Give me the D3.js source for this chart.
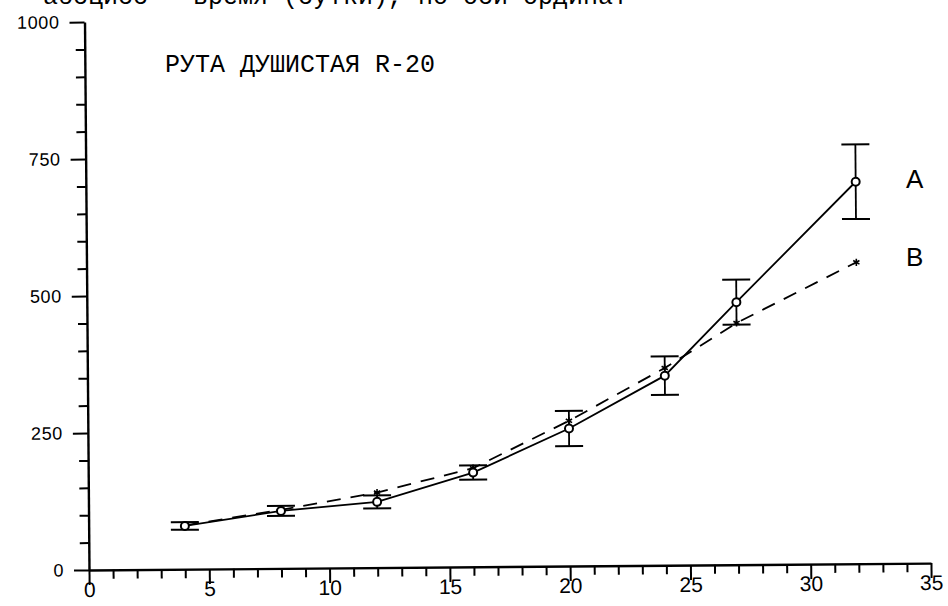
<!DOCTYPE html>
<html>
<head>
<meta charset="utf-8">
<script src="https://cdn.jsdelivr.net/npm/d3@7"></script>
<style>
  body { margin: 0; background: #fff; }
  svg { display: block; }
</style>
</head>
<body>
<div id="viz"></div>
<script>
// Data
var days    = [4, 8, 12, 16, 20, 24, 27, 32];
var seriesA = [79, 105, 120, 172, 251, 346, 479, 697];
var errA    = [7, 9, 12, 13, 32, 35, 41, 68];
var seriesB = [80, 107, 137, 180, 265, 360, 441, 550];
var xTicks  = d3.range(0, 36, 1);
var yTicks  = d3.range(0, 1001, 50);
var titulo  = 'РУТА ДУШИСТАЯ R-20';
var encabezado = 'абсцисс — время (сутки), по оси ординат';
var etiquetas = ['A', 'B'];

var width = 948, height = 606;

var svg = d3.select('#viz')
  .append('svg')
  .attr('width', width)
  .attr('height', height)
  .style('background', '#fff');

// cut-off caption line at the very top of the page
svg.append('text')
  .attr('x', 43)
  .attr('y', 4)
  .style('font-family', '"Liberation Mono", "DejaVu Sans Mono", monospace')
  .style('font-size', '25px')
  .attr('fill', '#000')
  .text(encabezado);

// the scan is slightly rotated, so the plot group is too
var g = svg.append('g')
  .attr('transform', 'translate(89,570) rotate(-0.47)');

var x = d3.scaleLinear().domain([0, 35]).range([0, 842]);
var y = d3.scaleLinear().domain([0, 1000]).range([0, -548]);

// x axis
var ejeX = g.append('g')
  .call(d3.axisBottom(x)
    .tickValues(xTicks)
    .tickSize(15)
    .tickSizeOuter(0)
    .tickPadding(-3)
    .tickFormat(function(d){ return d % 5 === 0 ? d : ''; }));

ejeX.selectAll('.tick line')
  .attr('y2', function(d){ return d % 5 === 0 ? 15 : 9; })
  .attr('stroke-width', 2);
ejeX.selectAll('.tick text')
  .style('font-family', '"Liberation Sans", Arial, sans-serif')
  .style('font-size', '21px');

// y axis
var ejeY = g.append('g')
  .call(d3.axisLeft(y)
    .tickValues(yTicks)
    .tickSize(15)
    .tickSizeOuter(0)
    .tickPadding(10)
    .tickFormat(function(d){ return d % 250 === 0 ? d : ''; }));

ejeY.selectAll('.tick line')
  .attr('x2', function(d){ return d % 250 === 0 ? -15 : -9; })
  .attr('stroke-width', 2);
ejeY.selectAll('.tick text')
  .style('font-family', '"Liberation Sans", Arial, sans-serif')
  .style('font-size', '18px')
  .style('letter-spacing', '0.6px');

g.selectAll('.domain').attr('stroke-width', 2.4);

// series B, dashed
var linea = d3.line()
  .x(function(d){ return x(d[0]); })
  .y(function(d){ return y(d[1]); });

g.append('path')
  .datum(d3.zip(days, seriesB))
  .attr('d', linea)
  .attr('fill', 'none')
  .attr('stroke', '#000')
  .attr('stroke-width', 1.8)
  .attr('stroke-dasharray', '14,10');

// series A, solid
g.append('path')
  .datum(d3.zip(days, seriesA))
  .attr('d', linea)
  .attr('fill', 'none')
  .attr('stroke', '#000')
  .attr('stroke-width', 1.8);

// error bars on A
var barras = g.selectAll('.barra')
  .data(d3.zip(days, seriesA, errA))
  .enter().append('g')
  .attr('class', 'barra');

barras.append('line')
  .attr('x1', function(d){ return x(d[0]); })
  .attr('x2', function(d){ return x(d[0]); })
  .attr('y1', function(d){ return y(d[1] - d[2]); })
  .attr('y2', function(d){ return y(d[1] + d[2]); })
  .attr('stroke', '#000')
  .attr('stroke-width', 1.8);

[-1, 1].forEach(function(s){
  barras.append('line')
    .attr('x1', function(d){ return x(d[0]) - 14; })
    .attr('x2', function(d){ return x(d[0]) + 14; })
    .attr('y1', function(d){ return y(d[1] + s * d[2]); })
    .attr('y2', function(d){ return y(d[1] + s * d[2]); })
    .attr('stroke', '#000')
    .attr('stroke-width', 2);
});

// B markers (stars)
g.selectAll('.estrella')
  .data(d3.zip(days, seriesB))
  .enter().append('path')
  .attr('class', 'estrella')
  .attr('d', d3.symbol(d3.symbolAsterisk, 36))
  .attr('transform', function(d){ return 'translate(' + x(d[0]) + ',' + y(d[1]) + ')'; })
  .attr('fill', 'none')
  .attr('stroke', '#000')
  .attr('stroke-width', 1.6);

// A markers (open circles)
g.selectAll('.circulo')
  .data(d3.zip(days, seriesA))
  .enter().append('circle')
  .attr('class', 'circulo')
  .attr('cx', function(d){ return x(d[0]); })
  .attr('cy', function(d){ return y(d[1]); })
  .attr('r', 4)
  .attr('fill', '#fff')
  .attr('stroke', '#000')
  .attr('stroke-width', 2);

// title inside the plot
svg.append('text')
  .attr('x', 165)
  .attr('y', 72)
  .style('font-family', '"Liberation Mono", "DejaVu Sans Mono", monospace')
  .style('font-size', '25px')
  .attr('fill', '#000')
  .text(titulo);

// series labels at the right end
svg.selectAll('.etiqueta')
  .data(etiquetas)
  .enter().append('text')
  .attr('class', 'etiqueta')
  .attr('x', 906)
  .attr('y', function(d, i){ return i === 0 ? 188 : 266; })
  .style('font-family', '"Liberation Sans", Arial, sans-serif')
  .style('font-size', '26px')
  .attr('fill', '#000')
  .text(function(d){ return d; });
</script>
</body>
</html>
